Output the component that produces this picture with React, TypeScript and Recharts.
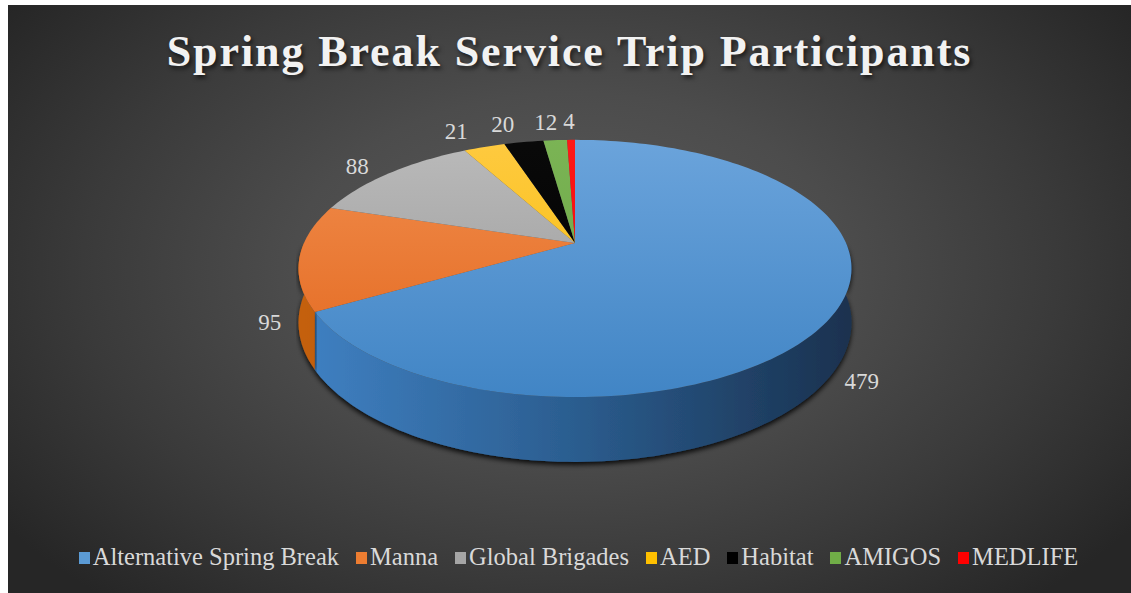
import React from 'react';
import { PieChart, Pie, Cell, Legend } from 'recharts';

const names = ['Alternative Spring Break', 'Manna', 'Global Brigades', 'AED', 'Habitat', 'AMIGOS', 'MEDLIFE'];
const values = [479, 95, 88, 21, 20, 12, 4];
const colors = ['#5b9bd5', '#ed7d31', '#a5a5a5', '#ffc000', '#000000', '#70ad47', '#ff0000'];

// shading for the fake 3d look
const topLight = ['#6ea6dd', '#f29051', '#bdbdbd', '#ffcb45', '#0a0a0a', '#7cb556', '#ff1a1a'];
const topDark = ['#4185c5', '#e2661c', '#959595', '#f6bb00', '#000000', '#68a443', '#f00000'];
const sideLeft = ['#3f80c2', '#c4600f', '#7a7a7a', '#c29200', '#000000', '#52843a', '#b00000'];
const sideMid = ['#2b5d8f', '#9a4a0c', '#5a5a5a', '#8c6a00', '#000000', '#3c612a', '#800000'];
const sideRight = ['#1a3250', '#6a330a', '#3a3a3a', '#5c4600', '#000000', '#27401b', '#500000'];

const data = names.map((name, i) => ({ name, value: values[i] }));

const W = 1123;
const H = 588;
const K = 0.198; // perspective
const YR = 0.456; // tilt
const DEPTH = 52;

const rim = (cx: number, cy: number, r: number, deg: number) => {
  const a = (deg * Math.PI) / 180;
  const s = Math.sin(a);
  const c = Math.cos(a);
  const w = 1 / (1 + K * s);
  return { x: cx + r * c * w, y: cy - r * YR * s * w, w, s, c };
};

const arcPoints = (cx: number, cy: number, r: number, from: number, to: number) => {
  const steps = Math.max(2, Math.ceil(Math.abs(from - to) / 1.5));
  const pts = [];
  for (let k = 0; k <= steps; k++) {
    pts.push(rim(cx, cy, r, from + ((to - from) * k) / steps));
  }
  return pts;
};

const Slice3D = (props: any) => {
  const { cx, cy, outerRadius: r, startAngle, endAngle } = props;
  const nm = props.name ?? props.payload?.name;
  const i = Math.max(0, names.indexOf(nm));
  const top = arcPoints(cx, cy, r, startAngle, endAngle);
  const topPath = `M${cx},${cy} ` + top.map(p => `L${p.x},${p.y}`).join(' ') + ' Z';

  const vs = Math.min(startAngle, 0);
  const ve = Math.max(endAngle, -180);
  let sidePath = '';
  if (vs > ve) {
    const up = arcPoints(cx, cy, r, vs, ve);
    const down = up.slice().reverse();
    sidePath =
      `M${up[0].x},${up[0].y} ` +
      up.map(p => `L${p.x},${p.y}`).join(' ') +
      ' ' +
      down.map(p => `L${p.x},${p.y + DEPTH * p.w}`).join(' ') +
      ' Z';
  }

  return (
    <g>
      <defs>
        <linearGradient id={`top${i}`} gradientUnits="userSpaceOnUse" x1={0} y1={cy - r * YR} x2={0} y2={cy + r * YR * 1.25}>
          <stop offset="0%" stopColor={topLight[i]} />
          <stop offset="100%" stopColor={topDark[i]} />
        </linearGradient>
        <linearGradient id={`side${i}`} gradientUnits="userSpaceOnUse" x1={cx - r} y1={0} x2={cx + r} y2={0}>
          <stop offset="0%" stopColor={sideLeft[i]} />
          <stop offset="50%" stopColor={sideMid[i]} />
          <stop offset="100%" stopColor={sideRight[i]} />
        </linearGradient>
        <filter id={`sh${i}`} x="-10%" y="-10%" width="120%" height="140%">
          <feDropShadow dx={0} dy={3} stdDeviation={2.5} floodColor="#000" floodOpacity={0.85} />
        </filter>
      </defs>
      {sidePath && <path d={sidePath} fill={`url(#side${i})`} filter={`url(#sh${i})`} />}
      <path d={topPath} fill={`url(#top${i})`} />
    </g>
  );
};

const renderLabel = (p: any) => {
  const { cx, cy, outerRadius: r, midAngle, value } = p;
  const pt = rim(cx, cy, r, midAngle);
  const back = pt.s > 0;
  const x = back ? pt.x + 32 * Math.tanh(3.5 * pt.c) : pt.x + pt.c * 30;
  const y = back ? pt.y - 18 * pt.s * pt.s : pt.y + DEPTH * pt.w + 12;
  return (
    <text x={x} y={y} fill="#d9d9d9" fontSize={23} fontFamily="'Liberation Serif', serif" textAnchor="middle" dominantBaseline="central">
      {value}
    </text>
  );
};

const renderLegend = (props: any) => {
  const items = props.payload && props.payload.length
    ? props.payload
        .map((it: any) => ({ label: it.value, color: it.color }))
        .sort((a: any, b: any) => names.indexOf(a.label) - names.indexOf(b.label))
    : names.map((n, i) => ({ label: n, color: colors[i] }));
  return (
    <div style={{ display: 'flex', justifyContent: 'center', alignItems: 'center', paddingLeft: 18, fontFamily: "'Liberation Serif', serif", fontSize: 24.5, color: '#d9d9d9' }}>
      {items.map((it: any, k: number) => (
        <div key={it.label} style={{ display: 'flex', alignItems: 'center', marginRight: k === items.length - 1 ? 0 : 17 }}>
          <span style={{ display: 'inline-block', width: 11, height: 12, background: it.color, marginRight: 3, marginTop: 1 }} />
          <span>{it.label}</span>
        </div>
      ))}
    </div>
  );
};

export default function App() {
  return (
    <div
      style={{
        position: 'absolute',
        left: 8,
        top: 5,
        width: W,
        height: H,
        background: 'radial-gradient(ellipse 62% 75% at 50% 45%, #5b5b5b 0%, #4c4c4c 40%, #3a3a3a 70%, #262626 100%)',
        overflow: 'hidden',
      }}
    >
      <div
        style={{
          position: 'absolute',
          left: 0,
          top: 25,
          width: W,
          textAlign: 'center',
          fontFamily: "'Liberation Serif', serif",
          fontWeight: 'bold',
          fontSize: 44,
          lineHeight: '44px',
          letterSpacing: 1.9,
          color: '#f2f2f2',
          textShadow: '2px 3px 4px rgba(0,0,0,0.6)',
        }}
      >
        Spring Break Service Trip Participants
      </div>
      <PieChart width={W} height={H} margin={{ top: 0, right: 0, bottom: 0, left: 0 }}>
        <Pie
          data={data}
          dataKey="value"
          nameKey="name"
          cx={567}
          cy={238}
          outerRadius={271}
          startAngle={90}
          endAngle={-270}
          stroke="none"
          isAnimationActive={false}
          labelLine={false}
          label={renderLabel}
          shape={Slice3D}
          inactiveShape={Slice3D}
          activeShape={Slice3D}
        >
          {data.map((d, i) => (
            <Cell key={d.name} fill={colors[i]} />
          ))}
        </Pie>
        <Legend
          content={renderLegend}
          wrapperStyle={{ position: 'absolute', left: 0, top: 538, width: W, height: 30 }}
        />
      </PieChart>
    </div>
  );
}
